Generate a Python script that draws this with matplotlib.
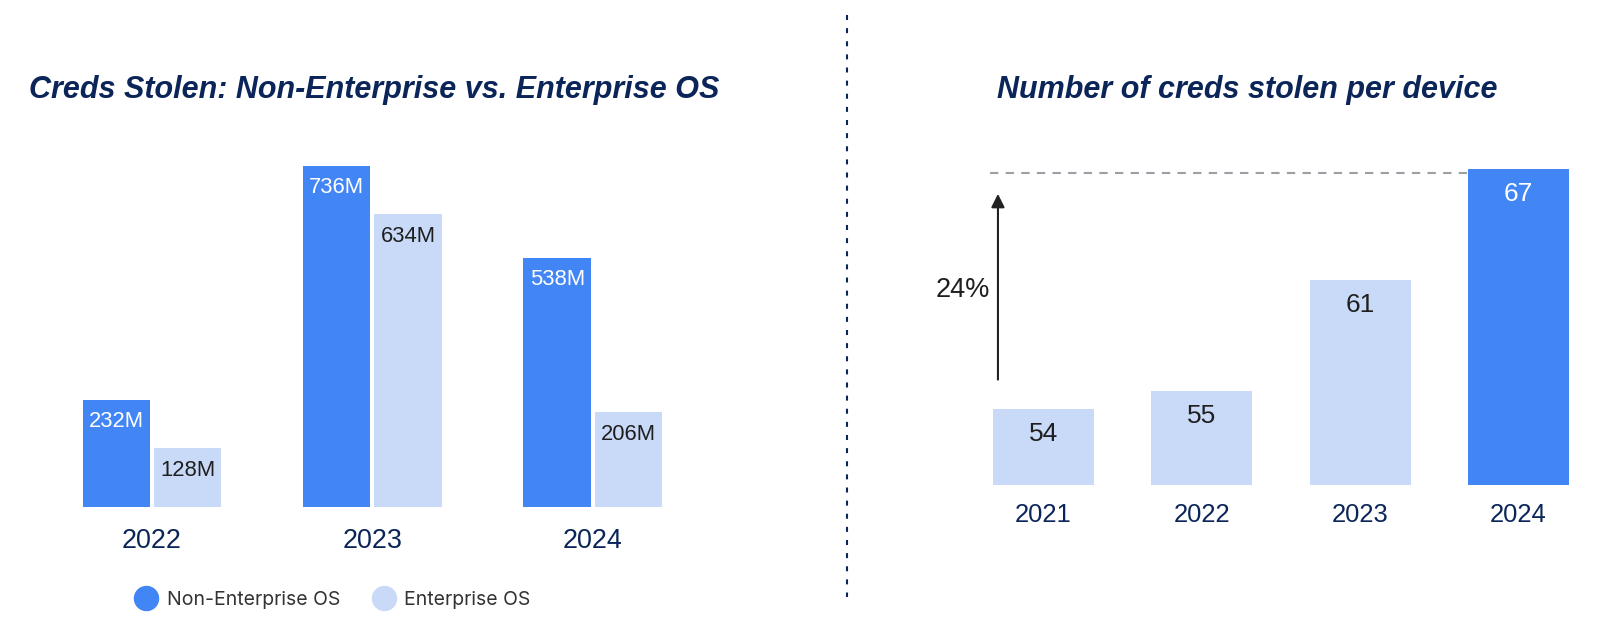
import matplotlib
matplotlib.use('Agg')
import matplotlib.pyplot as plt
from matplotlib.lines import Line2D

plt.rcParams['font.family'] = ['Liberation Sans', 'DejaVu Sans']

# ---------------- data ----------------
years_left = ['2022', '2023', '2024']
non_enterprise = [232, 736, 538]
enterprise = [128, 634, 206]
series_names = ['Non-Enterprise OS', 'Enterprise OS']

years_right = ['2021', '2022', '2023', '2024']
creds_per_device = [54, 55, 61, 67]
growth_label = '24%'

title_left = 'Creds Stolen: Non-Enterprise vs. Enterprise OS'
title_right = 'Number of creds stolen per device'

# ---------------- style ----------------
DARK = '#4285F4'
LIGHT = '#C9DAF8'
NAVY = '#0B2559'
TEXT = '#1F1F1F'

W, H = 1600, 642
S = W / 1568.0


def fx(x):
    return x * S / W


def fy(y):
    return 1 - y * S / H


fig = plt.figure(figsize=(W / 100, H / 100), dpi=100)

# ---------------- left chart ----------------
axL = fig.add_axes([fx(60), fy(497), fx(700) - fx(60), fy(130) - fy(497)])
sp = 216.0
axL.set_xlim(-(149 - 60) / sp, 2 + (700 - 581) / sp)
axL.set_ylim(0, (497 - 130) / 0.4538)
xs = list(range(len(years_left)))
bw = 66 / sp
off = 35 / sp
axL.bar([x - off for x in xs], non_enterprise, width=bw, color=DARK)
axL.bar([x + off for x in xs], enterprise, width=bw, color=LIGHT)
for x, v in zip(xs, non_enterprise):
    axL.annotate(f'{v}M', (x - off, v), xytext=(0, -15.5), textcoords='offset points',
                 ha='center', va='center', color='white', fontsize=15.8)
for x, v in zip(xs, enterprise):
    axL.annotate(f'{v}M', (x + off, v), xytext=(0, -16.5), textcoords='offset points',
                 ha='center', va='center', color=TEXT, fontsize=15.8)
axL.set_xticks(xs)
axL.set_xticklabels(years_left, fontsize=19.4, color=NAVY)
axL.tick_params(axis='x', length=0, pad=15)
axL.set_yticks([])
for s in axL.spines.values():
    s.set_visible(False)

fig.text(fx(28), fy(88), title_left, fontsize=22.0, fontweight='bold', fontstyle='italic',
         color=NAVY, ha='left', va='center')

handles = [Line2D([], [], marker='o', linestyle='none', markersize=17.3, color=DARK),
           Line2D([], [], marker='o', linestyle='none', markersize=17.3, color=LIGHT)]
fig.legend(handles, series_names, loc='center', bbox_to_anchor=(fx(326), fy(588)), ncol=2,
           frameon=False, prop={'family': 'Inter', 'size': 14}, handletextpad=0.45,
           columnspacing=1.65, labelcolor='#333333', handlelength=1.2)

# ---------------- divider ----------------
fig.add_artist(Line2D([fx(830), fx(830)], [fy(15), fy(585)], transform=fig.transFigure,
                      color=NAVY, lw=1.5, linestyle=(0, (2.4, 3.9))))

# ---------------- right chart ----------------
axR = fig.add_axes([fx(940), fy(475), fx(1560) - fx(940), fy(130) - fy(475)])
spr = 155.2
v0 = 49.9
pxu = 18.1
axR.set_xlim(-(1022.5 - 940) / spr, 3 + (1560 - 1488) / spr)
axR.set_ylim(v0, v0 + (475 - 130) / pxu)
xr = list(range(len(years_right)))
colors = [LIGHT] * (len(years_right) - 1) + [DARK]
axR.bar(xr, creds_per_device, width=99 / spr, color=colors)
for i, (x, v) in enumerate(zip(xr, creds_per_device)):
    axR.annotate(f'{v}', (x, v), xytext=(0, -18.3), textcoords='offset points',
                 ha='center', va='center', fontsize=19,
                 color='white' if i == len(xr) - 1 else TEXT)
axR.set_xticks(xr)
axR.set_xticklabels(years_right, fontsize=18.4, color=NAVY)
axR.tick_params(axis='x', length=0, pad=13)
axR.set_yticks([])
for s in axR.spines.values():
    s.set_visible(False)

# dashed reference line at top value
axR.plot([(970 - 1022.5) / spr, 3 - 50 / spr], [creds_per_device[-1] - 0.25] * 2,
         color='#9AA0A6', lw=1.5, linestyle=(0, (4, 3.5)), clip_on=False)
# growth arrow
ax_x = (978 - 1022.5) / spr
axR.annotate('', xy=(ax_x, v0 + (475 - 190) / pxu), xytext=(ax_x, v0 + (475 - 372) / pxu),
             arrowprops=dict(arrowstyle='-|>', color='#222222', lw=1.5, mutation_scale=20,
                             shrinkA=0, shrinkB=0), annotation_clip=False)
axR.text((944 - 1022.5) / spr, v0 + (475 - 284) / pxu, growth_label, fontsize=19.5,
         color=TEXT, ha='center', va='center')

fig.text(fx(977), fy(88), title_right, fontsize=22.0, fontweight='bold', fontstyle='italic',
         color=NAVY, ha='left', va='center')

fig.savefig('out.png', dpi=100, facecolor='white')
